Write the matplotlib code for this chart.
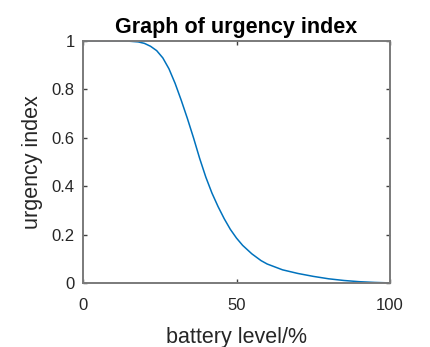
import matplotlib
matplotlib.use("Agg")
import matplotlib.pyplot as plt

# battery level (%) and the urgency index
battery_level = [0, 5, 10, 15, 18, 20, 22, 24, 26, 28, 30, 32, 34, 36, 38, 40,
                 42, 44, 46, 48, 50, 52, 55, 58, 60, 65, 70, 75, 80, 85, 90, 95, 100]
urgency_index = [1.000, 1.000, 1.000, 0.999, 0.996, 0.990, 0.978, 0.960, 0.930,
                 0.885, 0.825, 0.755, 0.680, 0.600, 0.515, 0.438, 0.372, 0.316,
                 0.266, 0.222, 0.186, 0.156, 0.121, 0.093, 0.079, 0.055, 0.040,
                 0.028, 0.018, 0.011, 0.006, 0.003, 0.001]

x_ticks = [0, 50, 100]
x_tick_labels = ["0", "50", "100"]
y_ticks = [0, 0.2, 0.4, 0.6, 0.8, 1.0]
y_tick_labels = ["0", "0.2", "0.4", "0.6", "0.8", "1"]

plt.rcParams["font.family"] = ["Liberation Sans", "DejaVu Sans"]

fig = plt.figure(figsize=(4.30, 3.47), dpi=100)
ax = fig.add_axes([0.193, 0.184, 0.714, 0.698])

ax.plot(battery_level, urgency_index, color="#0072BD", lw=1.1)

ax.set_xlim(0, 100)
ax.set_ylim(0, 1)
ax.set_xticks(x_ticks)
ax.set_xticklabels(x_tick_labels)
ax.set_yticks(y_ticks)
ax.set_yticklabels(y_tick_labels)

axis_grey = "#7a7a7a"
for side in ax.spines.values():
    side.set_color(axis_grey)
    side.set_linewidth(1.4)

ax.tick_params(axis="both", direction="in", length=3, width=1.0,
               color="#404040", labelsize=12, labelcolor="#262626",
               top=True, right=True)
ax.tick_params(axis="x", pad=11)
ax.tick_params(axis="y", pad=6)

ax.set_xlabel("battery level/%", fontsize=15.5, color="#262626", labelpad=10)
ax.set_ylabel("urgency index", fontsize=15.5, color="#262626", labelpad=6)
ax.set_title("Graph of urgency index", fontsize=15.5, fontweight="bold",
             color="#000000", pad=6)

fig.savefig("out.png", dpi=100, facecolor="white")
